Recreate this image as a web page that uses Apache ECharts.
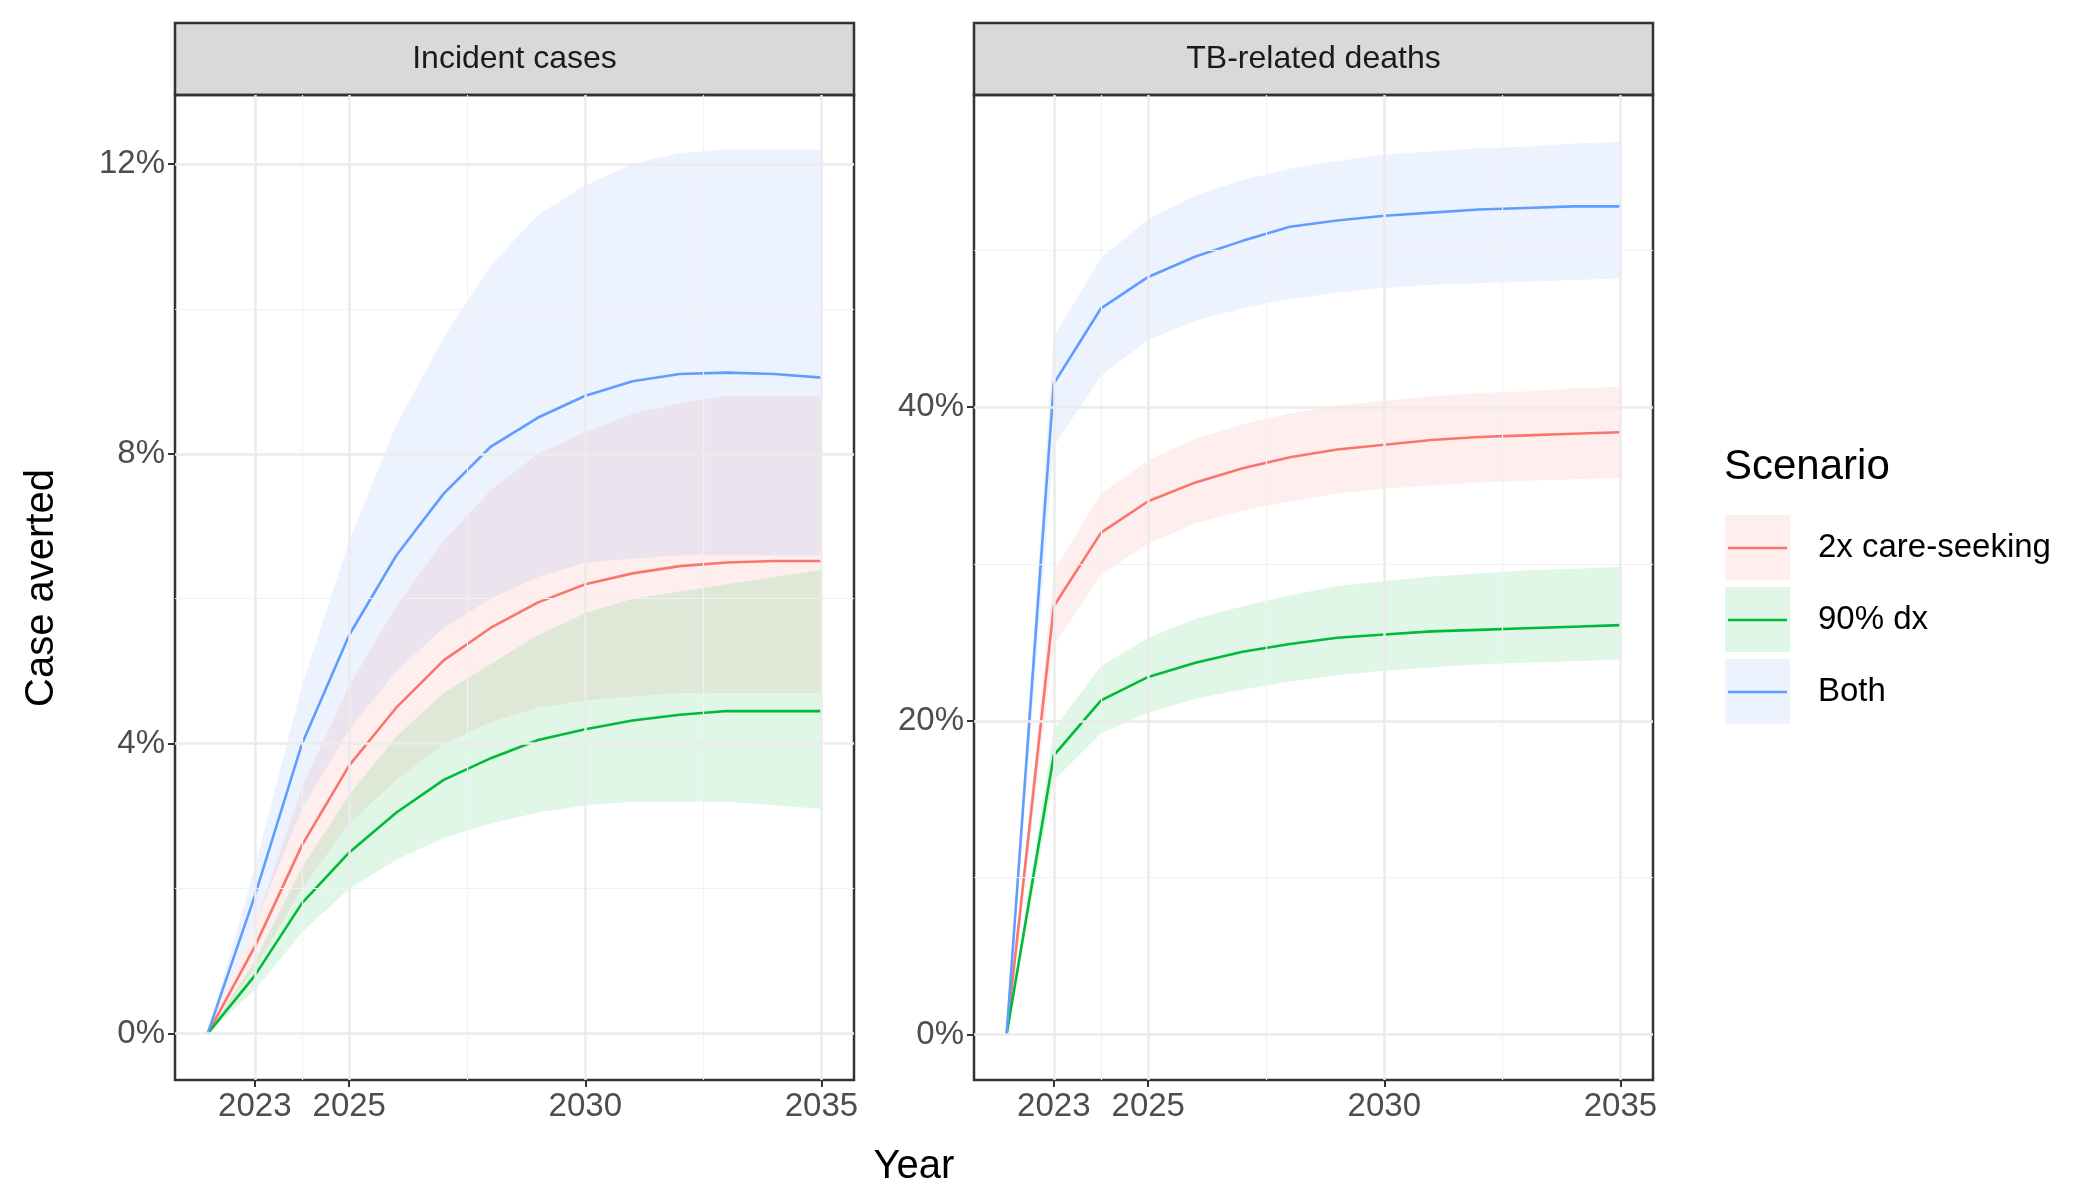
<!DOCTYPE html>
<html><head><meta charset="utf-8">
<script src="https://cdn.jsdelivr.net/npm/echarts@6/dist/echarts.min.js"></script>
<style>html,body{margin:0;background:#fff}#c{width:2100px;height:1200px}</style>
</head><body><div id="c"></div>
<script>
const years = [2022,2023,2024,2025,2026,2027,2028,2029,2030,2031,2032,2033,2034,2035];
const scenarios = ['2x care-seeking', '90% dx', 'Both'];
const colors = ['#F8766D', '#00BA38', '#619CFF'];

// Incident cases (% averted)
const incMid = [
  [0,1.2,2.6,3.7,4.5,5.15,5.6,5.95,6.2,6.35,6.45,6.5,6.52,6.52],
  [0,0.8,1.8,2.5,3.05,3.5,3.8,4.05,4.2,4.32,4.4,4.45,4.45,4.45],
  [0,1.9,4.0,5.5,6.6,7.45,8.1,8.5,8.8,9.0,9.1,9.12,9.1,9.05]
];
const incLo = [
  [0,0.9,2.0,2.9,3.5,4.0,4.3,4.5,4.6,4.65,4.7,4.7,4.7,4.7],
  [0,0.6,1.4,2.0,2.4,2.7,2.9,3.05,3.15,3.2,3.2,3.2,3.15,3.1],
  [0,1.5,3.1,4.2,5.0,5.6,6.0,6.3,6.5,6.55,6.6,6.6,6.6,6.6]
];
const incHi = [
  [0,1.5,3.4,4.8,5.9,6.8,7.5,8.0,8.3,8.55,8.7,8.8,8.8,8.8],
  [0,1.0,2.3,3.3,4.1,4.7,5.1,5.5,5.8,6.0,6.1,6.2,6.3,6.4],
  [0,2.3,4.8,6.8,8.4,9.6,10.6,11.3,11.7,12.0,12.15,12.2,12.2,12.2]
];
// TB-related deaths (% averted)
const dthMid = [
  [0,27.3,32.0,34.0,35.2,36.1,36.8,37.3,37.6,37.9,38.1,38.2,38.3,38.4],
  [0,17.8,21.3,22.8,23.7,24.4,24.9,25.3,25.5,25.7,25.8,25.9,26.0,26.1],
  [0,41.5,46.3,48.3,49.6,50.6,51.5,51.9,52.2,52.4,52.6,52.7,52.8,52.8]
];
const dthLo = [
  [0,24.8,29.3,31.3,32.6,33.4,34.0,34.5,34.8,35.0,35.2,35.3,35.4,35.5],
  [0,16.2,19.2,20.5,21.4,22.0,22.5,22.9,23.2,23.4,23.6,23.7,23.8,23.9],
  [0,37.5,42.0,44.3,45.5,46.3,46.9,47.3,47.6,47.8,47.9,48.0,48.1,48.2]
];
const dthHi = [
  [0,29.5,34.5,36.6,38.0,38.9,39.6,40.1,40.4,40.7,40.9,41.0,41.2,41.3],
  [0,19.5,23.5,25.3,26.5,27.3,28.0,28.6,28.9,29.2,29.4,29.6,29.7,29.8],
  [0,44.5,49.5,52.0,53.5,54.5,55.2,55.7,56.1,56.3,56.5,56.6,56.8,56.9]
];
const xTicks = [2023, 2025, 2030, 2035];
const xMinor = [2024, 2027.5, 2032.5];
const incTicks = [0, 4, 8, 12];
const incMinor = [2, 6, 10];
const dthTicks = [0, 20, 40];
const dthMinor = [10, 30, 50];

const FONT = 'Liberation Sans';
const chart = echarts.init(document.getElementById('c'));
const grids = [
  {left: 175, top: 95, width: 679, height: 985},
  {left: 974, top: 95, width: 679, height: 985}
];
const yRanges = [[-0.64, 12.95], [-2.9, 59.9]];

function gridSeries(i, major, minor, ymaj, ymin) {
  const ml = [];
  minor.forEach(v => ml.push({xAxis: v, lineStyle: {width: 1.2, color: '#f2f2f2', type: 'solid'}}));
  ymin.forEach(v => ml.push({yAxis: v, lineStyle: {width: 1.2, color: '#f2f2f2', type: 'solid'}}));
  major.forEach(v => ml.push({xAxis: v, lineStyle: {width: 2.5, color: '#ebebeb', type: 'solid'}}));
  ymaj.forEach(v => ml.push({yAxis: v, lineStyle: {width: 2.5, color: '#ebebeb', type: 'solid'}}));
  return {type: 'line', xAxisIndex: i, yAxisIndex: i, data: [], silent: true, z: 1,
    markLine: {symbol: 'none', label: {show: false}, silent: true, animation: false, data: ml}};
}

function bandSeries(p, k, lo, hi) {
  return {
    type: 'custom', xAxisIndex: p, yAxisIndex: p, silent: true, z: 2,
    data: years.map((y, j) => [y, lo[j], hi[j]]),
    renderItem: (params, api) => {
      if (params.dataIndex !== 0) return;
      const top = years.map((y, j) => api.coord([y, hi[j]]));
      const bot = years.map((y, j) => api.coord([y, lo[j]])).reverse();
      return {type: 'polygon', shape: {points: top.concat(bot)},
        style: {fill: colors[k], opacity: 0.12}};
    }
  };
}

const series = [
  gridSeries(0, xTicks, xMinor, incTicks, incMinor),
  gridSeries(1, xTicks, xMinor, dthTicks, dthMinor)
];
[[incMid, incLo, incHi], [dthMid, dthLo, dthHi]].forEach(([mid, lo, hi], p) => {
  scenarios.forEach((s, k) => series.push(bandSeries(p, k, lo[k], hi[k])));
  scenarios.forEach((s, k) => {
    series.push({type: 'line', name: s, xAxisIndex: p, yAxisIndex: p, symbol: 'none', z: 3,
      lineStyle: {color: colors[k], width: 2.6}, data: years.map((y, j) => [y, mid[k][j]])});
  });
});

const legendEls = [{type: 'text', left: 1724, top: 446, style: {text: 'Scenario', font: '42px ' + FONT, fill: '#000'}}];
scenarios.forEach((s, k) => {
  const y = 515 + k * 72;
  legendEls.push({type: 'rect', shape: {x: 1725, y: y, width: 65, height: 65},
    style: {fill: colors[k], opacity: 0.12}});
  legendEls.push({type: 'line', shape: {x1: 1728, y1: y + 33, x2: 1787, y2: y + 33},
    style: {stroke: colors[k], lineWidth: 2.6}});
  legendEls.push({type: 'text', left: 1818, top: y + 16, style: {text: s, font: '33px ' + FONT, fill: '#000'}});
});

const strips = [['Incident cases', 175], ['TB-related deaths', 974]].map(([t, x]) => ({
  type: 'group', children: [
    {type: 'rect', shape: {x: x, y: 23, width: 679, height: 72}, style: {fill: '#d9d9d9', stroke: '#333', lineWidth: 2.5}},
    {type: 'text', x: x + 339.5, y: 59, style: {text: t, font: '32px ' + FONT, fill: '#1a1a1a', align: 'center', verticalAlign: 'middle'}}
  ]}));

chart.setOption({
  animation: false,
  backgroundColor: '#fff',
  grid: grids.map(g => Object.assign({show: true, borderColor: '#333', borderWidth: 2.5, backgroundColor: 'transparent', z: 5}, g)),
  xAxis: [0, 1].map(i => ({
    type: 'value', gridIndex: i, min: 2021.31, max: 2035.69,
    splitLine: {show: false}, axisLine: {show: false, onZero: false},
    axisTick: {show: true, customValues: xTicks, length: 7, lineStyle: {color: '#333', width: 2}},
    axisLabel: {customValues: xTicks, color: '#4d4d4d', fontSize: 33, fontFamily: FONT, margin: 10, formatter: v => String(v)}
  })),
  yAxis: [0, 1].map(i => ({
    type: 'value', gridIndex: i, min: yRanges[i][0], max: yRanges[i][1],
    splitLine: {show: false}, axisLine: {show: false, onZero: false},
    axisTick: {show: true, customValues: i ? dthTicks : incTicks, length: 7, lineStyle: {color: '#333', width: 2}},
    axisLabel: {customValues: i ? dthTicks : incTicks, color: '#4d4d4d', fontSize: 33, fontFamily: FONT, margin: 10, formatter: v => v + '%'}
  })),
  series: series,
  graphic: strips.concat(legendEls).concat([
    {type: 'text', x: 914, y: 1167, style: {text: 'Year', font: '40px ' + FONT, fill: '#000', align: 'center', verticalAlign: 'middle'}},
    {type: 'text', x: 42, y: 588, rotation: Math.PI / 2, style: {text: 'Case averted', font: '40px ' + FONT, fill: '#000', align: 'center', verticalAlign: 'middle'}}
  ])
});
</script></body></html>
